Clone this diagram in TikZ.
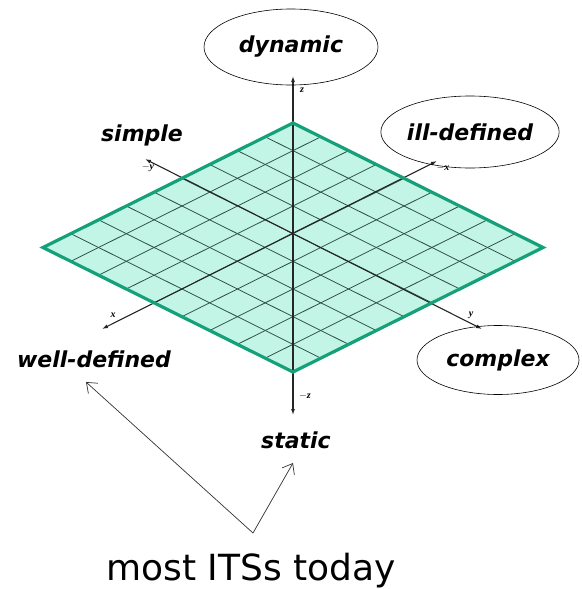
\documentclass[tikz,border=0pt]{standalone}
\usepackage{fontspec}
\setmainfont{DejaVu Sans}
\newfontfamily\axfont{Liberation Serif}
\usetikzlibrary{positioning}
\usetikzlibrary{arrows.meta}
\usetikzlibrary{shapes.geometric}

\definecolor{planeFill}{HTML}{C3F5E6}
\definecolor{planeEdge}{HTML}{14A078}
\definecolor{gridLine}{HTML}{2E5247}

\begin{document}
\begin{tikzpicture}[x=1pt,y=-1pt,
        lbl/.style={font=\fontsize{22}{24}\selectfont\bfseries\itshape, inner sep=0pt},
        lblEll/.style={lbl, ellipse, draw=black, line width=0.6pt},
        axisLine/.style={draw=black!85, line width=1.1pt, {Latex[length=6pt,width=4pt]}-{Latex[length=6pt,width=4pt]}},
        axLbl/.style={font=\axfont\fontsize{10}{10}\selectfont\bfseries\itshape, inner sep=0pt},
        pointer/.style={draw=black!80, line width=0.7pt, -{Straight Barb[length=9pt,width=14pt]}}]
        \useasboundingbox (0,0) rectangle (581,589);

        % the plane
        \coordinate (pTop) at (293,123);
        \coordinate (pRight) at (543,247.5);
        \coordinate (pBottom) at (293,372);
        \coordinate (pLeft) at (43,247.5);
        \fill[planeFill] (pTop) -- (pRight) -- (pBottom) -- (pLeft) -- cycle;
        \foreach \i in {1,...,8} {
            \draw[gridLine, line width=0.8pt] (293-27.78*\i,123+13.83*\i) -- ++(250,124.5);
            \draw[gridLine, line width=0.8pt] (293+27.78*\i,123+13.83*\i) -- ++(-250,124.5);
        }

        % axes
        \coordinate (xNeg) at (437,161);
        \coordinate (xPos) at (102,329);
        \coordinate (yNeg) at (145,159);
        \coordinate (yPos) at (482,329);
        \coordinate (zPos) at (293,76);
        \coordinate (zNeg) at (293,415);
        \draw[axisLine] (xNeg) -- (xPos);
        \draw[axisLine] (yNeg) -- (yPos);
        \draw[axisLine] (zNeg) -- (zPos);
        \draw[planeEdge, line width=3.2pt, line join=miter] (pTop) -- (pRight) -- (pBottom) -- (pLeft) -- cycle;

        \node[axLbl] (lblZ) at (302,90) {z};
        \node[axLbl] (lblNegZ) at (305,396) {$-$z};
        \node[axLbl] (lblX) at (113,315) {x};
        \node[axLbl] (lblNegX) at (443,168) {$-$x};
        \node[axLbl] (lblY) at (471,315) {y};
        \node[axLbl] (lblNegY) at (148,168) {$-$y};

        % the six ends
        \node[lblEll, minimum width=174pt, minimum height=76pt] (ellDynamic) at (291,47) {dynamic};
        \node[lblEll, minimum width=162pt, minimum height=72pt] (ellIllDefined) at (470,132) {ill-defined};
        \node[lblEll, minimum width=162pt, minimum height=69pt] (ellComplex) at (498,360) {complex};
        \node[lbl] (txtSimple) at (142,135) {simple};
        \node[lbl] (txtWellDefined) at (94,359) {well-defined};
        \node[lbl] (txtStatic) at (296,440) {static};

        % most ITSs
        \node[font=\fontsize{36}{40}\selectfont, anchor=base, inner sep=0pt] (txtMost) at (251,580) {most ITSs today};
        \coordinate (vtx) at (253,533);
        \coordinate (tipWell) at (86,382);
        \coordinate (tipStatic) at (293,463);
        \draw[pointer] (vtx) -- (tipWell);
        \draw[pointer] (vtx) -- (tipStatic);

    \end{tikzpicture}
\end{document}
